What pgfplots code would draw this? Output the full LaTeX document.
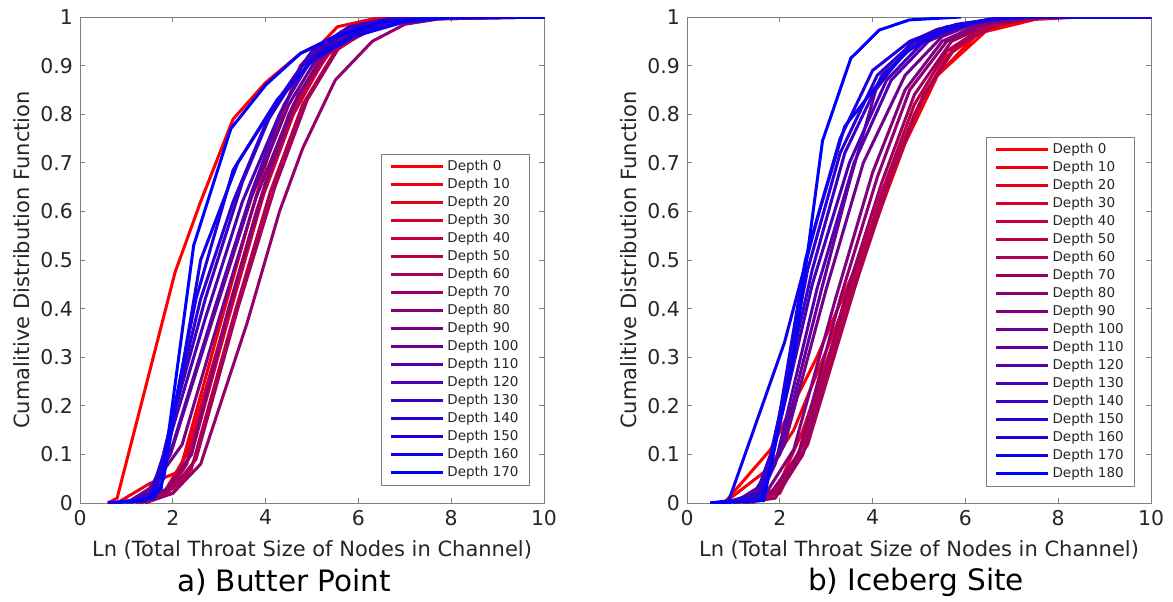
\documentclass[border=0pt]{standalone}
\usepackage{fontspec}
\setmainfont{DejaVu Sans}
\usepackage{pgfplots}
\pgfplotsset{compat=1.18}
\pgfplotsset{
  cdfax/.style={
    width=232pt, height=243pt, scale only axis,
    xmin=0, xmax=10, ymin=0, ymax=1,
    xtick={0,2,4,6,8,10}, xticklabels={0,2,4,6,8,10},
    ytick={0,0.1,0.2,0.3,0.4,0.5,0.6,0.7,0.8,0.9,1},
    yticklabels={0,0.1,0.2,0.3,0.4,0.5,0.6,0.7,0.8,0.9,1},
    tick align=inside, xtick pos=both, ytick pos=both,
    major tick length=2.5pt,
    axis line style={black!50, line width=0.5pt},
    every tick/.style={black!50, line width=0.5pt},
    tick label style={font=\fontsize{10.2}{12}\selectfont, text=black!85},
    label style={font=\fontsize{10.5}{12}\selectfont, text=black!85},
    xlabel={Ln (Total Throat Size of Nodes in Channel)},
    ylabel={Cumalitive Distribution Function},
    xlabel style={at={(axis description cs:0.5,-0.097)}, anchor=center},
    ylabel style={at={(axis description cs:-0.125,0.5)}, anchor=center},
    every axis plot/.append style={line width=1.5pt},
    legend cell align=left,
    legend image code/.code={\draw[#1] (0pt,0pt) -- (26pt,0pt);},
    legend style={font=\fontsize{6.75}{8}\selectfont, text=black!85,
      draw=black!50, line width=0.5pt, fill=white,
      inner xsep=4pt, inner ysep=2pt, row sep=0.5pt,
      nodes={inner xsep=1.5pt, inner ysep=1pt, text height=5pt, text depth=1.5pt},
      anchor=south east},
  }
}
\begin{document}
\begin{tikzpicture}
\begin{axis}[cdfax, legend style={at={(axis description cs:0.97,0.035)}}]
\addplot[color=red] coordinates {(0.6,0) (0.8,0.01) (2.05,0.475) (2.6,0.62) (3.3,0.79) (4.0,0.865) (4.75,0.925) (5.6,0.965) (6.5,0.99) (7.5,1) (10,1)};
\addlegendentry{Depth 0}
\addplot[color=red!94.12!blue] coordinates {(0.8,0) (1.5,0.04) (2.15,0.065) (3.0,0.36) (3.7,0.6) (4.2,0.76) (4.75,0.9) (5.55,0.98) (6.5,1) (10,1)};
\addlegendentry{Depth 10}
\addplot[color=red!88.24!blue] coordinates {(1.0,0) (1.8,0.02) (2.3,0.1) (3.0,0.33) (3.8,0.6) (4.5,0.8) (5.2,0.92) (6.0,0.975) (7,0.995) (10,1)};
\addlegendentry{Depth 20}
\addplot[color=red!82.35!blue] coordinates {(1.2,0) (1.9,0.03) (2.4,0.1) (3.2,0.38) (4.0,0.65) (4.7,0.83) (5.4,0.93) (6.2,0.98) (7.2,1) (10,1)};
\addlegendentry{Depth 30}
\addplot[color=red!76.47!blue] coordinates {(1.3,0) (1.9,0.02) (2.3,0.08) (3.1,0.36) (3.9,0.62) (4.6,0.8) (5.3,0.92) (6.1,0.975) (7,0.995) (10,1)};
\addlegendentry{Depth 40}
\addplot[color=red!70.59!blue] coordinates {(1.2,0) (2.0,0.02) (2.4,0.07) (3.3,0.38) (4.1,0.64) (4.8,0.82) (5.5,0.93) (6.3,0.98) (7.5,1) (10,1)};
\addlegendentry{Depth 50}
\addplot[color=red!64.71!blue] coordinates {(1.4,0) (2.0,0.03) (2.5,0.09) (3.4,0.4) (4.2,0.65) (4.9,0.83) (5.6,0.94) (6.5,0.985) (7.5,1) (10,1)};
\addlegendentry{Depth 60}
\addplot[color=red!58.82!blue] coordinates {(1.4,0) (2.0,0.02) (2.6,0.08) (3.6,0.37) (4.3,0.6) (4.8,0.73) (5.5,0.87) (6.3,0.95) (7,0.985) (8,1) (10,1)};
\addlegendentry{Depth 70}
\addplot[color=red!52.94!blue] coordinates {(1.3,0) (1.9,0.03) (2.4,0.1) (3.2,0.4) (4.0,0.66) (4.7,0.84) (5.4,0.94) (6.2,0.98) (7.2,1) (10,1)};
\addlegendentry{Depth 80}
\addplot[color=red!47.06!blue] coordinates {(1.2,0) (1.6,0.04) (2.2,0.12) (3.0,0.38) (3.8,0.63) (4.6,0.82) (5.3,0.93) (6.1,0.98) (7,1) (10,1)};
\addlegendentry{Depth 90}
\addplot[color=red!41.18!blue] coordinates {(1.0,0) (1.5,0.03) (1.95,0.1) (2.8,0.36) (3.7,0.63) (4.5,0.82) (5.2,0.93) (6,0.98) (7,1) (10,1)};
\addlegendentry{Depth 100}
\addplot[color=red!35.29!blue] coordinates {(1.1,0) (1.6,0.02) (2.0,0.12) (2.9,0.4) (3.7,0.64) (4.4,0.82) (5.1,0.93) (5.9,0.98) (7,1) (10,1)};
\addlegendentry{Depth 110}
\addplot[color=red!29.41!blue] coordinates {(1.0,0) (1.5,0.02) (1.8,0.09) (2.7,0.38) (3.5,0.62) (4.3,0.8) (5.0,0.92) (5.8,0.975) (6.8,0.995) (10,1)};
\addlegendentry{Depth 120}
\addplot[color=red!23.53!blue] coordinates {(1.0,0) (1.6,0.02) (1.85,0.12) (2.7,0.42) (3.5,0.66) (4.2,0.82) (5.0,0.93) (5.8,0.98) (6.8,1) (10,1)};
\addlegendentry{Depth 130}
\addplot[color=red!17.65!blue] coordinates {(0.8,0) (1.5,0.01) (1.8,0.1) (2.6,0.42) (3.3,0.62) (4.0,0.78) (4.8,0.9) (5.6,0.96) (6.6,0.99) (8,1) (10,1)};
\addlegendentry{Depth 140}
\addplot[color=red!11.76!blue] coordinates {(0.7,0) (1.5,0.01) (1.75,0.06) (2.5,0.42) (3.3,0.685) (4.25,0.83) (5.1,0.92) (6.0,0.97) (7,0.99) (8,1) (10,1)};
\addlegendentry{Depth 150}
\addplot[color=red!5.88!blue] coordinates {(0.6,0) (1.6,0.01) (1.8,0.05) (2.6,0.5) (3.4,0.7) (4.2,0.82) (5.0,0.91) (5.9,0.96) (7,0.99) (8,1) (10,1)};
\addlegendentry{Depth 160}
\addplot[color=blue] coordinates {(0.6,0) (1.4,0.005) (1.75,0.03) (2.45,0.53) (3.25,0.77) (4.0,0.86) (4.75,0.925) (5.5,0.96) (6.5,0.99) (8,1) (10,1)};
\addlegendentry{Depth 170}
\end{axis}
\begin{axis}[cdfax, at={(303.5pt,0pt)}, legend style={at={(axis description cs:0.966,0.033)}}]
\addplot[color=red] coordinates {(0.8,0) (1.8,0.11) (2.8,0.3) (3.7,0.5) (4.57,0.72) (5.36,0.877) (6.43,0.97) (7.5,0.995) (8.5,1) (10,1)};
\addlegendentry{Depth 0}
\addplot[color=red!94.44!blue] coordinates {(0.8,0) (1.75,0.07) (2.3,0.15) (3.2,0.36) (4.0,0.56) (4.7,0.74) (5.4,0.88) (6.3,0.97) (7.5,1) (10,1)};
\addlegendentry{Depth 10}
\addplot[color=red!88.89!blue] coordinates {(1.0,0) (1.9,0.02) (2.5,0.15) (3.4,0.4) (4.2,0.63) (4.9,0.8) (5.6,0.92) (6.5,0.98) (7.5,1) (10,1)};
\addlegendentry{Depth 20}
\addplot[color=red!83.33!blue] coordinates {(1.2,0) (1.95,0.03) (2.5,0.12) (3.5,0.42) (4.3,0.65) (5.0,0.82) (5.7,0.93) (6.6,0.985) (7.6,1) (10,1)};
\addlegendentry{Depth 30}
\addplot[color=red!77.78!blue] coordinates {(1.3,0) (2.0,0.02) (2.6,0.14) (3.6,0.44) (4.4,0.67) (5.1,0.84) (5.8,0.94) (6.6,0.985) (7.6,1) (10,1)};
\addlegendentry{Depth 40}
\addplot[color=red!72.22!blue] coordinates {(1.3,0) (1.9,0.02) (2.4,0.1) (3.4,0.4) (4.2,0.64) (4.9,0.82) (5.6,0.93) (6.4,0.98) (7.4,1) (10,1)};
\addlegendentry{Depth 50}
\addplot[color=red!66.67!blue] coordinates {(1.4,0) (2.0,0.03) (2.6,0.12) (3.7,0.47) (4.4,0.68) (5.1,0.84) (5.8,0.94) (6.7,0.985) (7.7,1) (10,1)};
\addlegendentry{Depth 60}
\addplot[color=red!61.11!blue] coordinates {(1.2,0) (1.9,0.01) (2.5,0.1) (3.4,0.42) (4.2,0.66) (4.9,0.84) (5.7,0.95) (6.5,0.985) (7.5,1) (10,1)};
\addlegendentry{Depth 70}
\addplot[color=red!55.56!blue] coordinates {(1.2,0) (1.8,0.02) (2.4,0.1) (3.3,0.42) (4.1,0.67) (4.8,0.85) (5.6,0.95) (6.4,0.985) (7.4,1) (10,1)};
\addlegendentry{Depth 80}
\addplot[color=red!50!blue] coordinates {(1.1,0) (1.7,0.02) (2.3,0.11) (3.2,0.42) (4.0,0.68) (4.7,0.85) (5.5,0.95) (6.3,0.985) (7.3,1) (10,1)};
\addlegendentry{Depth 90}
\addplot[color=red!44.44!blue] coordinates {(1.0,0) (1.6,0.03) (2.1,0.12) (3.0,0.44) (3.8,0.7) (4.7,0.88) (5.5,0.96) (6.3,0.99) (7.3,1) (10,1)};
\addlegendentry{Depth 100}
\addplot[color=red!38.89!blue] coordinates {(1.0,0) (1.5,0.03) (2.0,0.1) (2.9,0.44) (3.5,0.66) (4.07,0.85) (4.85,0.95) (5.4,0.975) (6.5,0.995) (7.5,1) (10,1)};
\addlegendentry{Depth 110}
\addplot[color=red!33.33!blue] coordinates {(1.0,0) (1.6,0.02) (1.9,0.08) (2.8,0.44) (3.6,0.7) (4.4,0.87) (5.2,0.95) (6.0,0.985) (7,1) (10,1)};
\addlegendentry{Depth 120}
\addplot[color=red!27.78!blue] coordinates {(0.9,0) (1.5,0.02) (1.8,0.08) (2.7,0.45) (3.5,0.7) (4.3,0.87) (5.1,0.95) (6.0,0.985) (7,1) (10,1)};
\addlegendentry{Depth 130}
\addplot[color=red!22.22!blue] coordinates {(0.8,0) (1.5,0.02) (1.8,0.1) (2.7,0.48) (3.4,0.72) (4.2,0.88) (5.0,0.95) (5.9,0.985) (7,1) (10,1)};
\addlegendentry{Depth 140}
\addplot[color=red!16.67!blue] coordinates {(0.7,0) (1.5,0.01) (1.75,0.06) (2.6,0.48) (3.3,0.72) (4.1,0.88) (4.9,0.95) (5.8,0.985) (7,1) (10,1)};
\addlegendentry{Depth 150}
\addplot[color=red!11.11!blue] coordinates {(0.6,0) (1.6,0.01) (1.8,0.07) (2.55,0.5) (3.3,0.75) (4.0,0.89) (4.8,0.95) (5.6,0.98) (6.8,1) (10,1)};
\addlegendentry{Depth 160}
\addplot[color=red!5.56!blue] coordinates {(0.5,0) (0.9,0.005) (2.1,0.33) (2.85,0.6) (3.4,0.775) (4.1,0.86) (4.75,0.93) (5.5,0.97) (6.5,0.995) (7.5,1) (10,1)};
\addlegendentry{Depth 170}
\addplot[color=blue] coordinates {(0.5,0) (1.65,0.005) (2.3,0.3) (2.92,0.745) (3.53,0.915) (4.14,0.973) (4.79,0.994) (5.9,1)};
\addlegendentry{Depth 180}
\end{axis}
\node[font=\fontsize{14.75}{17}\selectfont, text=black] at (102pt,-39.5pt) {a) Butter Point};
\node[font=\fontsize{14.75}{17}\selectfont, text=black] at (418pt,-39.5pt) {b) Iceberg Site};
\pgfresetboundingbox
\path[use as bounding box] (-40pt,-49pt) rectangle (546.5pt,251.5pt);
\end{tikzpicture}
\end{document}
